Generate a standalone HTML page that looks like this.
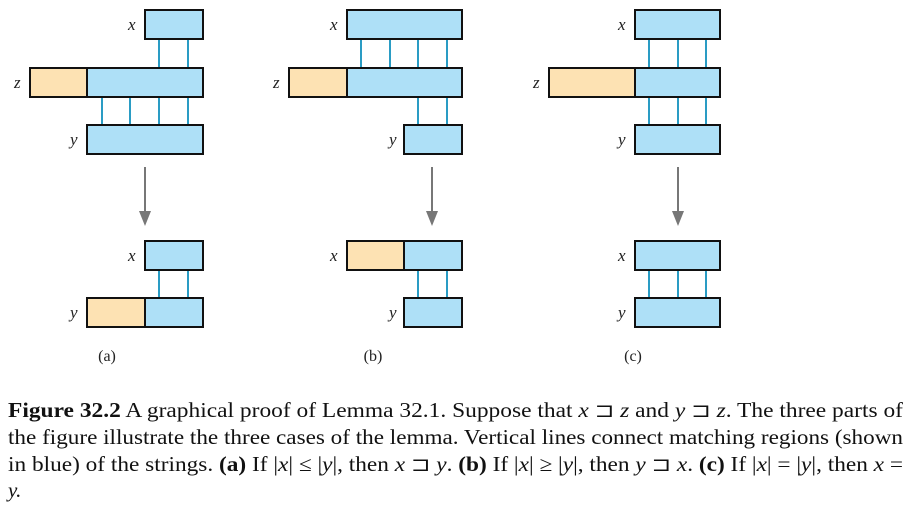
<!DOCTYPE html>
<html><head><meta charset="utf-8"><style>
html,body{margin:0;padding:0;background:#fff;}
svg{display:block;}
.lbl{font-family:"Liberation Serif",serif;font-style:italic;font-size:17px;fill:#222;}
.cap{font-family:"Liberation Serif",serif;font-size:21px;fill:#111;}
.b{fill:#aee0f7;stroke:#111;stroke-width:2;}
.o{fill:#fde2b3;stroke:#111;stroke-width:2;}
.ln{stroke:#2a9cc4;stroke-width:2;}
</style></head><body>
<svg width="909" height="507" viewBox="0 0 909 507">
<g id="diagram"></g>
<text class="cap" x="8" y="417" textLength="895" lengthAdjust="spacingAndGlyphs"><tspan font-weight="bold">Figure 32.2</tspan> A graphical proof of Lemma 32.1. Suppose that <tspan font-style="italic">x</tspan> ⊐ <tspan font-style="italic">z</tspan> and <tspan font-style="italic">y</tspan> ⊐ <tspan font-style="italic">z</tspan>. The three parts of</text>
<text class="cap" x="8" y="444" textLength="895" lengthAdjust="spacingAndGlyphs">the figure illustrate the three cases of the lemma. Vertical lines connect matching regions (shown</text>
<text class="cap" x="8" y="471" textLength="895" lengthAdjust="spacingAndGlyphs">in blue) of the strings. <tspan font-weight="bold">(a)</tspan> If |<tspan font-style="italic">x</tspan>| ≤ |<tspan font-style="italic">y</tspan>|, then <tspan font-style="italic">x</tspan> ⊐ <tspan font-style="italic">y</tspan>. <tspan font-weight="bold">(b)</tspan> If |<tspan font-style="italic">x</tspan>| ≥ |<tspan font-style="italic">y</tspan>|, then <tspan font-style="italic">y</tspan> ⊐ <tspan font-style="italic">x</tspan>. <tspan font-weight="bold">(c)</tspan> If |<tspan font-style="italic">x</tspan>| = |<tspan font-style="italic">y</tspan>|, then <tspan font-style="italic">x</tspan> =</text>
<text class="cap" x="8" y="497" font-style="italic">y.</text>
</svg>
<script>
const panels = [
 {name:'a', cx:107,
  boxes:[['x',145,145,203,10,128],['z',30,87,203,68,14],['y',87,87,203,125,70],['x',145,145,203,241,128],['y',87,145,203,298,70]],
  lines:[[159,188,39,68],[102,130,159,188,96,125],[],[159,188,270,298]], arrowX:145},
 {name:'b', cx:373,
  boxes:[['x',347,347,462,10,330],['z',289,347,462,68,273],['y',404,404,462,125,389],['x',347,404,462,241,330],['y',404,404,462,298,389]],
  lines:[[361,390,418,447,39,68],[418,447,96,125],[],[418,447,270,298]], arrowX:432},
 {name:'c', cx:633,
  boxes:[['x',635,635,720,10,618],['z',549,635,720,68,533],['y',635,635,720,125,618],['x',635,635,720,241,618],['y',635,635,720,298,618]],
  lines:[[649,678,706,39,68],[649,678,706,96,125],[],[649,678,706,270,298]], arrowX:678}
];
const NS='http://www.w3.org/2000/svg';
const g=document.getElementById('diagram');
function mk(t,a){const e=document.createElementNS(NS,t);for(const k in a)e.setAttribute(k,a[k]);g.appendChild(e);return e;}
panels.forEach(p=>{
  p.lines.forEach(l=>{
    if(!l.length)return;
    const y0=l[l.length-2],y1=l[l.length-1];
    for(let i=0;i<l.length-2;i++){
      const e=mk('line',{x1:l[i],x2:l[i],y1:y0,y2:y1,class:'ln'});
      
      
    }
  });
  p.boxes.forEach(b=>{
    const [lab,x0,xo,x1,y0,lx]=b;
    if(xo>x0){
      const r=mk('rect',{x:x0,y:y0,width:xo-x0,height:29,class:'o'});
      
      
    }
    const r=mk('rect',{x:xo,y:y0,width:x1-xo,height:29,class:'b'});
    
    
    const t=mk('text',{x:lx,y:y0+20,class:'lbl'});t.textContent=lab;
    
    
  });
  const ax=p.arrowX;
  const a=mk('line',{x1:ax,x2:ax,y1:167,y2:218,stroke:'#777','stroke-width':2});
  
  
  const h=mk('polygon',{points:`${ax-6},211 ${ax+6},211 ${ax},226`,fill:'#777'});
  
  
  const t=mk('text',{x:p.cx,y:361,'text-anchor':'middle','font-family':'Liberation Serif, serif','font-size':'16',fill:'#222'});
  t.textContent='('+p.name+')';
  
  
});
</script>
</body></html>
